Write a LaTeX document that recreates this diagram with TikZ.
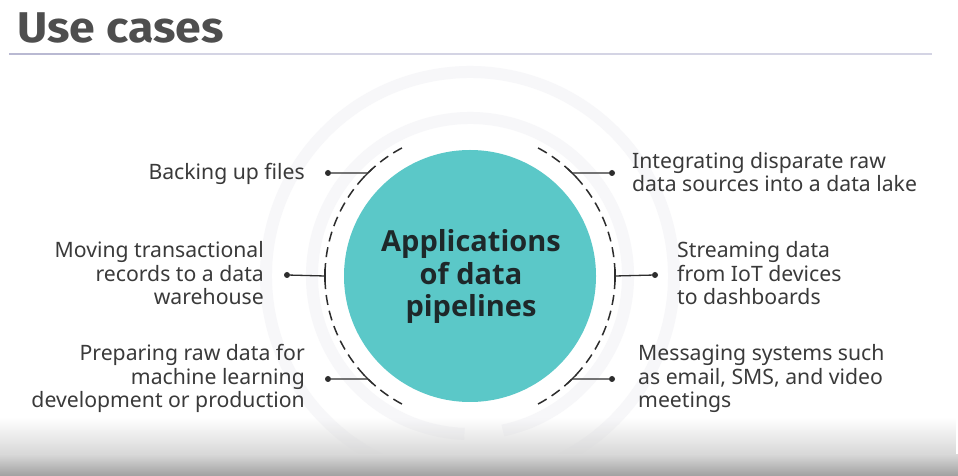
\documentclass[tikz,border=0pt]{standalone}
\usepackage{fontspec}
\setmainfont{Noto Sans}
\newfontfamily\titlefont[FakeStretch=1.08]{Fira Sans}
\newfontfamily\disctextfont{Open Sans}
\usetikzlibrary{calc,fadings}

\definecolor{discfill}{RGB}{91,200,200}
\definecolor{bodyink}{RGB}{58,58,58}
\definecolor{centerink}{RGB}{30,40,42}
\definecolor{ringgray}{RGB}{247,247,249}
\definecolor{rulelight}{RGB}{212,212,228}
\definecolor{ruledark}{RGB}{185,185,210}
\definecolor{titleink}{RGB}{78,78,78}
\definecolor{linkink}{RGB}{45,45,45}
\definecolor{fadegray}{RGB}{215,215,215}
\definecolor{fadedark}{RGB}{160,160,160}

\tikzset{
  usecase/.style={font=\fontsize{21.2}{23.6}\selectfont, text=bodyink, inner sep=0pt},
  leftcase/.style={usecase, align=right, anchor=base east},
  rightcase/.style={usecase, align=left, anchor=base west},
  enddot/.style={circle, fill=linkink, inner sep=0pt, minimum size=6pt},
  link/.style={draw=linkink, line width=1.3pt},
  guide/.style={draw=linkink, line width=1.5pt, dash pattern=on 10pt off 6pt},
  ring/.style={draw=ringgray, line width=12pt},
}

\begin{document}
\begin{tikzpicture}[x=1pt, y=1pt]
\useasboundingbox (0,0) rectangle (958,476);
\fill[white] (0,0) rectangle (958,476);

% faint concentric rings behind the disc
\coordinate (C) at (470,200);
\draw[ring] ($(C)+(-80:204)$) arc[start angle=-80, end angle=268, radius=204];
\draw[ring] ($(C)+(-78:158)$) arc[start angle=-78, end angle=268, radius=158];

% soft grey fade along the lower edge, laid over the rings
\fill[fadegray, path fading=north] (0,21) rectangle (958,58);
\shade[top color=fadegray, bottom color=fadedark] (0,0) rectangle (958,21.2);

% title and rule
\node[anchor=base west, inner sep=0pt, text=titleink,
      font=\titlefont\bfseries\fontsize{43}{43}\selectfont] (title) at (17,433) {Use cases};
\draw[rulelight, line width=1.6pt] (9,422) -- (932,422);
\draw[ruledark, line width=1.6pt] (9,422) -- (100,422);

% central disc
\node[circle, fill=discfill, minimum size=252pt, inner sep=0pt] (disc) at (C) {};
\node[font=\disctextfont\bfseries\fontsize{29}{32.5}\selectfont, text=centerink, align=center,
      anchor=base, inner sep=0pt] (disctext) at (471,159)
      {Applications\\of data\\pipelines};

% dashed guide arcs
\draw[guide] ($(C)+(118:145)$) arc[start angle=118, end angle=242, radius=145];
\draw[guide] ($(C)+(62:145)$) arc[start angle=62, end angle=-62, radius=145];

% attachment points on the arcs
\foreach \nm/\ang in {a1/134.7, a2/180, a3/225.3, b1/45.3, b2/0, b3/-45.3}{
  \coordinate (\nm) at ($(C)+(\ang:145)$);
  \draw[link] ($(\nm)+(\ang+90:6.5)$) -- ($(\nm)+(\ang-90:6.5)$);
}

% end dots
\node[enddot] (d1) at (328,303) {};
\node[enddot] (d2) at (287,201) {};
\node[enddot] (d3) at (328,97) {};
\node[enddot] (e1) at (612,303) {};
\node[enddot] (e2) at (655,201) {};
\node[enddot] (e3) at (612,97) {};

\draw[link] (d1) -- (a1);
\draw[link] (d2) -- (a2);
\draw[link] (d3) -- (a3);
\draw[link] (e1) -- (b1);
\draw[link] (e2) -- (b2);
\draw[link] (e3) -- (b3);

% use-case labels (anchored on the baseline of their last line)
\node[leftcase] (l1) at (305,296) {Backing up files};
\node[leftcase] (l2) at (264,171) {Moving transactional\\records to a data\\warehouse};
\node[leftcase] (l3) at (305,68) {Preparing raw data for\\machine learning\\development or production};
\node[rightcase] (r1) at (632,284) {Integrating disparate raw\\data sources into a data lake};
\node[rightcase] (r2) at (677,171) {Streaming data\\from IoT devices\\to dashboards};
\node[rightcase] (r3) at (638,68) {Messaging systems such\\as email, SMS, and video\\meetings};
\end{tikzpicture}
\end{document}
